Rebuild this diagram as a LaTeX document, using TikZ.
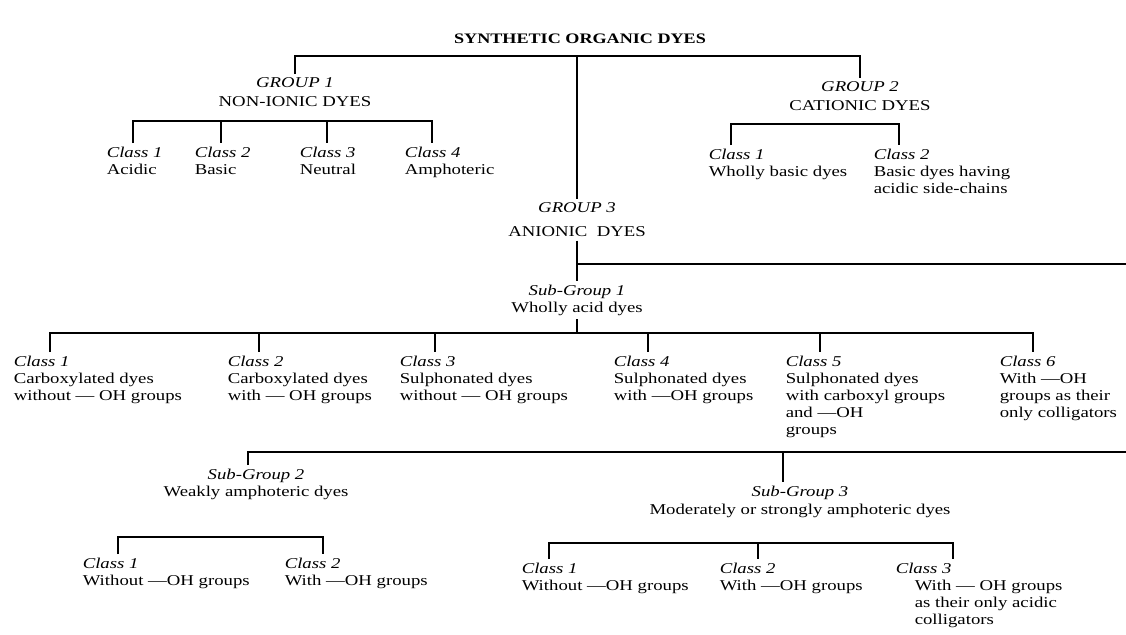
\documentclass[tikz,border=0pt]{standalone}
\usepackage{fontspec}
\setmainfont{Liberation Serif}[FakeStretch=1.25]
\begin{document}
\begin{tikzpicture}[x=1pt,y=-1pt,line width=1.5pt,
  cls/.style={anchor=north west,inner xsep=0pt,inner ysep=3pt,align=left,font=\fontsize{15}{17}\selectfont},
  grp/.style={anchor=north,inner sep=3pt,align=center,font=\fontsize{15}{19}\selectfont},
  ttl/.style={inner sep=2pt,font=\fontsize{14.5}{17}\selectfont\bfseries}]
\fill[white] (0,0) rectangle (1126,634);
\useasboundingbox (0,0) rectangle (1126,634);

% root
\node[ttl] (root) at (580,39) {SYNTHETIC ORGANIC DYES};
\coordinate (tb) at (577,56);

% groups
\node[grp] (g1) at (295,74) {\textit{GROUP 1}\\NON-IONIC DYES};
\node[grp] (g2) at (860,78) {\textit{GROUP 2}\\CATIONIC DYES};
\node[grp] (g3) at (577,199) {\textit{GROUP 3}\\[5pt]ANIONIC~~DYES};
\draw (g1.north) -- (g1.north |- tb) -- (g2.north |- tb) -- (g2.north);
\draw (tb) -- (g3.north);

% group 1 classes
\coordinate (a1) at (133,121);
\coordinate (a2) at (221,121);
\coordinate (a3) at (327,121);
\coordinate (a4) at (432,121);
\node[cls] (c11) at (106,143) {\textit{Class 1}\\Acidic};
\node[cls] (c12) at (194,143) {\textit{Class 2}\\Basic};
\node[cls] (c13) at (299,143) {\textit{Class 3}\\Neutral};
\node[cls] (c14) at (404,143) {\textit{Class 4}\\Amphoteric};
\draw (a1 |- c11.north) -- (a1) -- (a4) -- (a4 |- c14.north);
\draw (a2) -- (a2 |- c12.north);
\draw (a3) -- (a3 |- c13.north);

% group 2 classes
\coordinate (e1) at (731,124);
\coordinate (e2) at (899,124);
\node[cls] (c21) at (708,145) {\textit{Class 1}\\Wholly basic dyes};
\node[cls] (c22) at (873,145) {\textit{Class 2}\\Basic dyes having\\acidic side-chains};
\draw (e1 |- c21.north) -- (e1) -- (e2) -- (e2 |- c22.north);

% group 3
\coordinate (re1) at (1126,264);
\node[grp,font=\fontsize{15}{17}\selectfont] (sg1) at (577,281) {\textit{Sub-Group 1}\\Wholly acid dyes};
\draw (g3.south) -- (sg1.north);
\draw (g3.south |- re1) -- (re1);

% sub-group 1 classes
\coordinate (b1) at (50,333);
\coordinate (b2) at (259,333);
\coordinate (b3) at (435,333);
\coordinate (b4) at (648,333);
\coordinate (b5) at (820,333);
\coordinate (b6) at (1033,333);
\node[cls] (r1) at (13,352) {\textit{Class 1}\\Carboxylated dyes\\without — OH groups};
\node[cls] (r2) at (227,352) {\textit{Class 2}\\Carboxylated dyes\\with — OH groups};
\node[cls] (r3) at (399,352) {\textit{Class 3}\\Sulphonated dyes\\without — OH groups};
\node[cls] (r4) at (613,352) {\textit{Class 4}\\Sulphonated dyes\\with —OH groups};
\node[cls] (r5) at (785,352) {\textit{Class 5}\\Sulphonated dyes\\with carboxyl groups\\and —OH\\groups};
\node[cls] (r6) at (999,352) {\textit{Class 6}\\With —OH\\groups as their\\only colligators};
\draw (sg1.south) -- (sg1.south |- b1);
\draw (b1 |- r1.north) -- (b1) -- (b6) -- (b6 |- r6.north);
\draw (b2) -- (b2 |- r2.north);
\draw (b3) -- (b3 |- r3.north);
\draw (b4) -- (b4 |- r4.north);
\draw (b5) -- (b5 |- r5.north);

% sub-groups 2 and 3
\coordinate (q1) at (248,452);
\coordinate (q2) at (783,452);
\coordinate (re2) at (1126,452);
\node[grp,font=\fontsize{15}{17}\selectfont] (sg2) at (256,465) {\textit{Sub-Group 2}\\Weakly amphoteric dyes};
\node[grp,font=\fontsize{15}{18}\selectfont] (sg3) at (800,482) {\textit{Sub-Group 3}\\Moderately or strongly amphoteric dyes};
\draw (q1 |- sg2.north) -- (q1) -- (re2);
\draw (q2) -- (q2 |- sg3.north);

% sub-group 2 classes
\coordinate (s1) at (118,537);
\coordinate (s2) at (323,537);
\node[cls] (x1) at (82,554) {\textit{Class 1}\\Without —OH groups};
\node[cls] (x2) at (284,554) {\textit{Class 2}\\With —OH groups};
\draw (s1 |- x1.north) -- (s1) -- (s2) -- (s2 |- x2.north);

% sub-group 3 classes
\coordinate (t1) at (549,543);
\coordinate (t2) at (758,543);
\coordinate (t3) at (953,543);
\node[cls] (y1) at (521,559) {\textit{Class 1}\\Without —OH groups};
\node[cls] (y2) at (719,559) {\textit{Class 2}\\With —OH groups};
\node[cls] (y3) at (895,559) {\textit{Class 3}\\\hspace*{19pt}With — OH groups\\\hspace*{19pt}as their only acidic\\\hspace*{19pt}colligators};
\draw (t1 |- y1.north) -- (t1) -- (t3) -- (t3 |- y3.north);
\draw (t2) -- (t2 |- y2.north);
\end{tikzpicture}
\end{document}
